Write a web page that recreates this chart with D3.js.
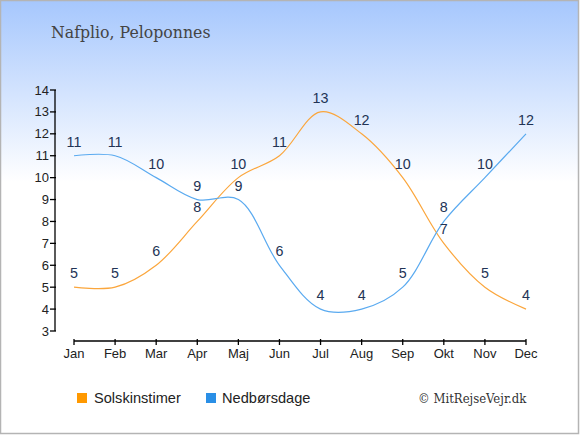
<!DOCTYPE html>
<html><head><meta charset="utf-8">
<script src="https://cdn.jsdelivr.net/npm/d3@7/dist/d3.min.js"></script>
<style>body{margin:0;padding:0;background:#fff}svg{display:block}</style>
</head><body><svg id="c" width="580" height="435"></svg>
<script>
const months = ["Jan","Feb","Mar","Apr","Maj","Jun","Jul","Aug","Sep","Okt","Nov","Dec"];
const sunHours = [5,5,6,8,10,11,13,12,10,7,5,4];
const rainDays = [11,11,10,9,9,6,4,4,5,8,10,12];
const yTicks = [3,4,5,6,7,8,9,10,11,12,13,14];
const seriesNames = ["Solskinstimer","Nedbørsdage"];
const lineColors = ["#fba63c","#5aaaf0"];
const legendColors = ["#ff9900","#2a8fe6"];

const svg = d3.select("#c");
const W = 580, H = 435;
const defs = svg.append("defs");
const g = defs.append("linearGradient").attr("id","bg").attr("x1",0).attr("y1",0).attr("x2",0).attr("y2",1);
g.append("stop").attr("offset","0").attr("stop-color","#a6c7fd");
g.append("stop").attr("offset","0.42").attr("stop-color","#ffffff");
g.append("stop").attr("offset","1").attr("stop-color","#ffffff");
svg.append("rect").attr("x",0.5).attr("y",0.5).attr("width",W-2).attr("height",H-2)
  .attr("fill","url(#bg)").attr("stroke","#b4b4b4").attr("stroke-width",1.5);

svg.append("text").attr("x",51).attr("y",38).text("Nafplio, Peloponnes")
  .attr("font-family","DejaVu Serif, serif").attr("font-stretch","condensed").attr("font-size",17.5).attr("fill","#444");

const x = d3.scalePoint().domain(months).range([74,526]);
const y = d3.scaleLinear().domain([3,14]).range([331,90]);

// y axis
const ya = svg.append("g").attr("transform","translate(55,0)");
ya.append("line").attr("x1",0).attr("x2",0).attr("y1",y(14)).attr("y2",y(3)).attr("stroke","#000").attr("stroke-width",1.3);
yTicks.forEach(t=>{
  ya.append("line").attr("x1",-5).attr("x2",1).attr("y1",y(t)).attr("y2",y(t)).attr("stroke","#000").attr("stroke-width",1.3);
  ya.append("text").attr("x",-6).attr("y",y(t)+4.5).attr("text-anchor","end").text(t)
    .attr("font-family","Liberation Sans, Arial, sans-serif").attr("font-size",13).attr("fill","#222");
});
// x axis
const xa = svg.append("g").attr("transform","translate(0,341)");
xa.append("line").attr("x1",x("Jan")).attr("x2",x("Dec")).attr("y1",0).attr("y2",0).attr("stroke","#000").attr("stroke-width",1.3);
months.forEach(m=>{
  xa.append("line").attr("x1",x(m)).attr("x2",x(m)).attr("y1",-2).attr("y2",4).attr("stroke","#000").attr("stroke-width",1.3);
  xa.append("text").attr("x",x(m)).attr("y",17).attr("text-anchor","middle").text(m)
    .attr("font-family","Liberation Sans, Arial, sans-serif").attr("font-size",13).attr("fill","#222");
});

const line = d3.line().x((d,i)=>x(months[i])).y(d=>y(d)).curve(d3.curveCatmullRom.alpha(0.5));
[sunHours, rainDays].forEach((s,k)=>{
  svg.append("path").attr("d",line(s)).attr("fill","none").attr("stroke",lineColors[k]).attr("stroke-width",1.2);
});
[sunHours, rainDays].forEach((s,k)=>{
  s.forEach((v,i)=>{
    svg.append("text").attr("x",x(months[i])).attr("y",y(v)-9).attr("text-anchor","middle").text(v)
      .attr("font-family","Liberation Sans, Arial, sans-serif").attr("font-size",14.3).attr("fill","#223355");
  });
});

// legend
const lg = [[77,94],[206,222]];
seriesNames.forEach((n,k)=>{
  svg.append("rect").attr("x",lg[k][0]).attr("y",393).attr("width",10).attr("height",10).attr("fill",legendColors[k]);
  svg.append("text").attr("x",lg[k][1]).attr("y",403).text(n)
    .attr("font-family","Liberation Sans, Arial, sans-serif").attr("font-size",14.6).attr("fill","#222");
});
svg.append("text").attr("x",418).attr("y",403).text("© MitRejseVejr.dk")
  .attr("font-family","DejaVu Serif, serif").attr("font-stretch","condensed").attr("font-size",13).attr("fill","#333");
</script></body></html>
